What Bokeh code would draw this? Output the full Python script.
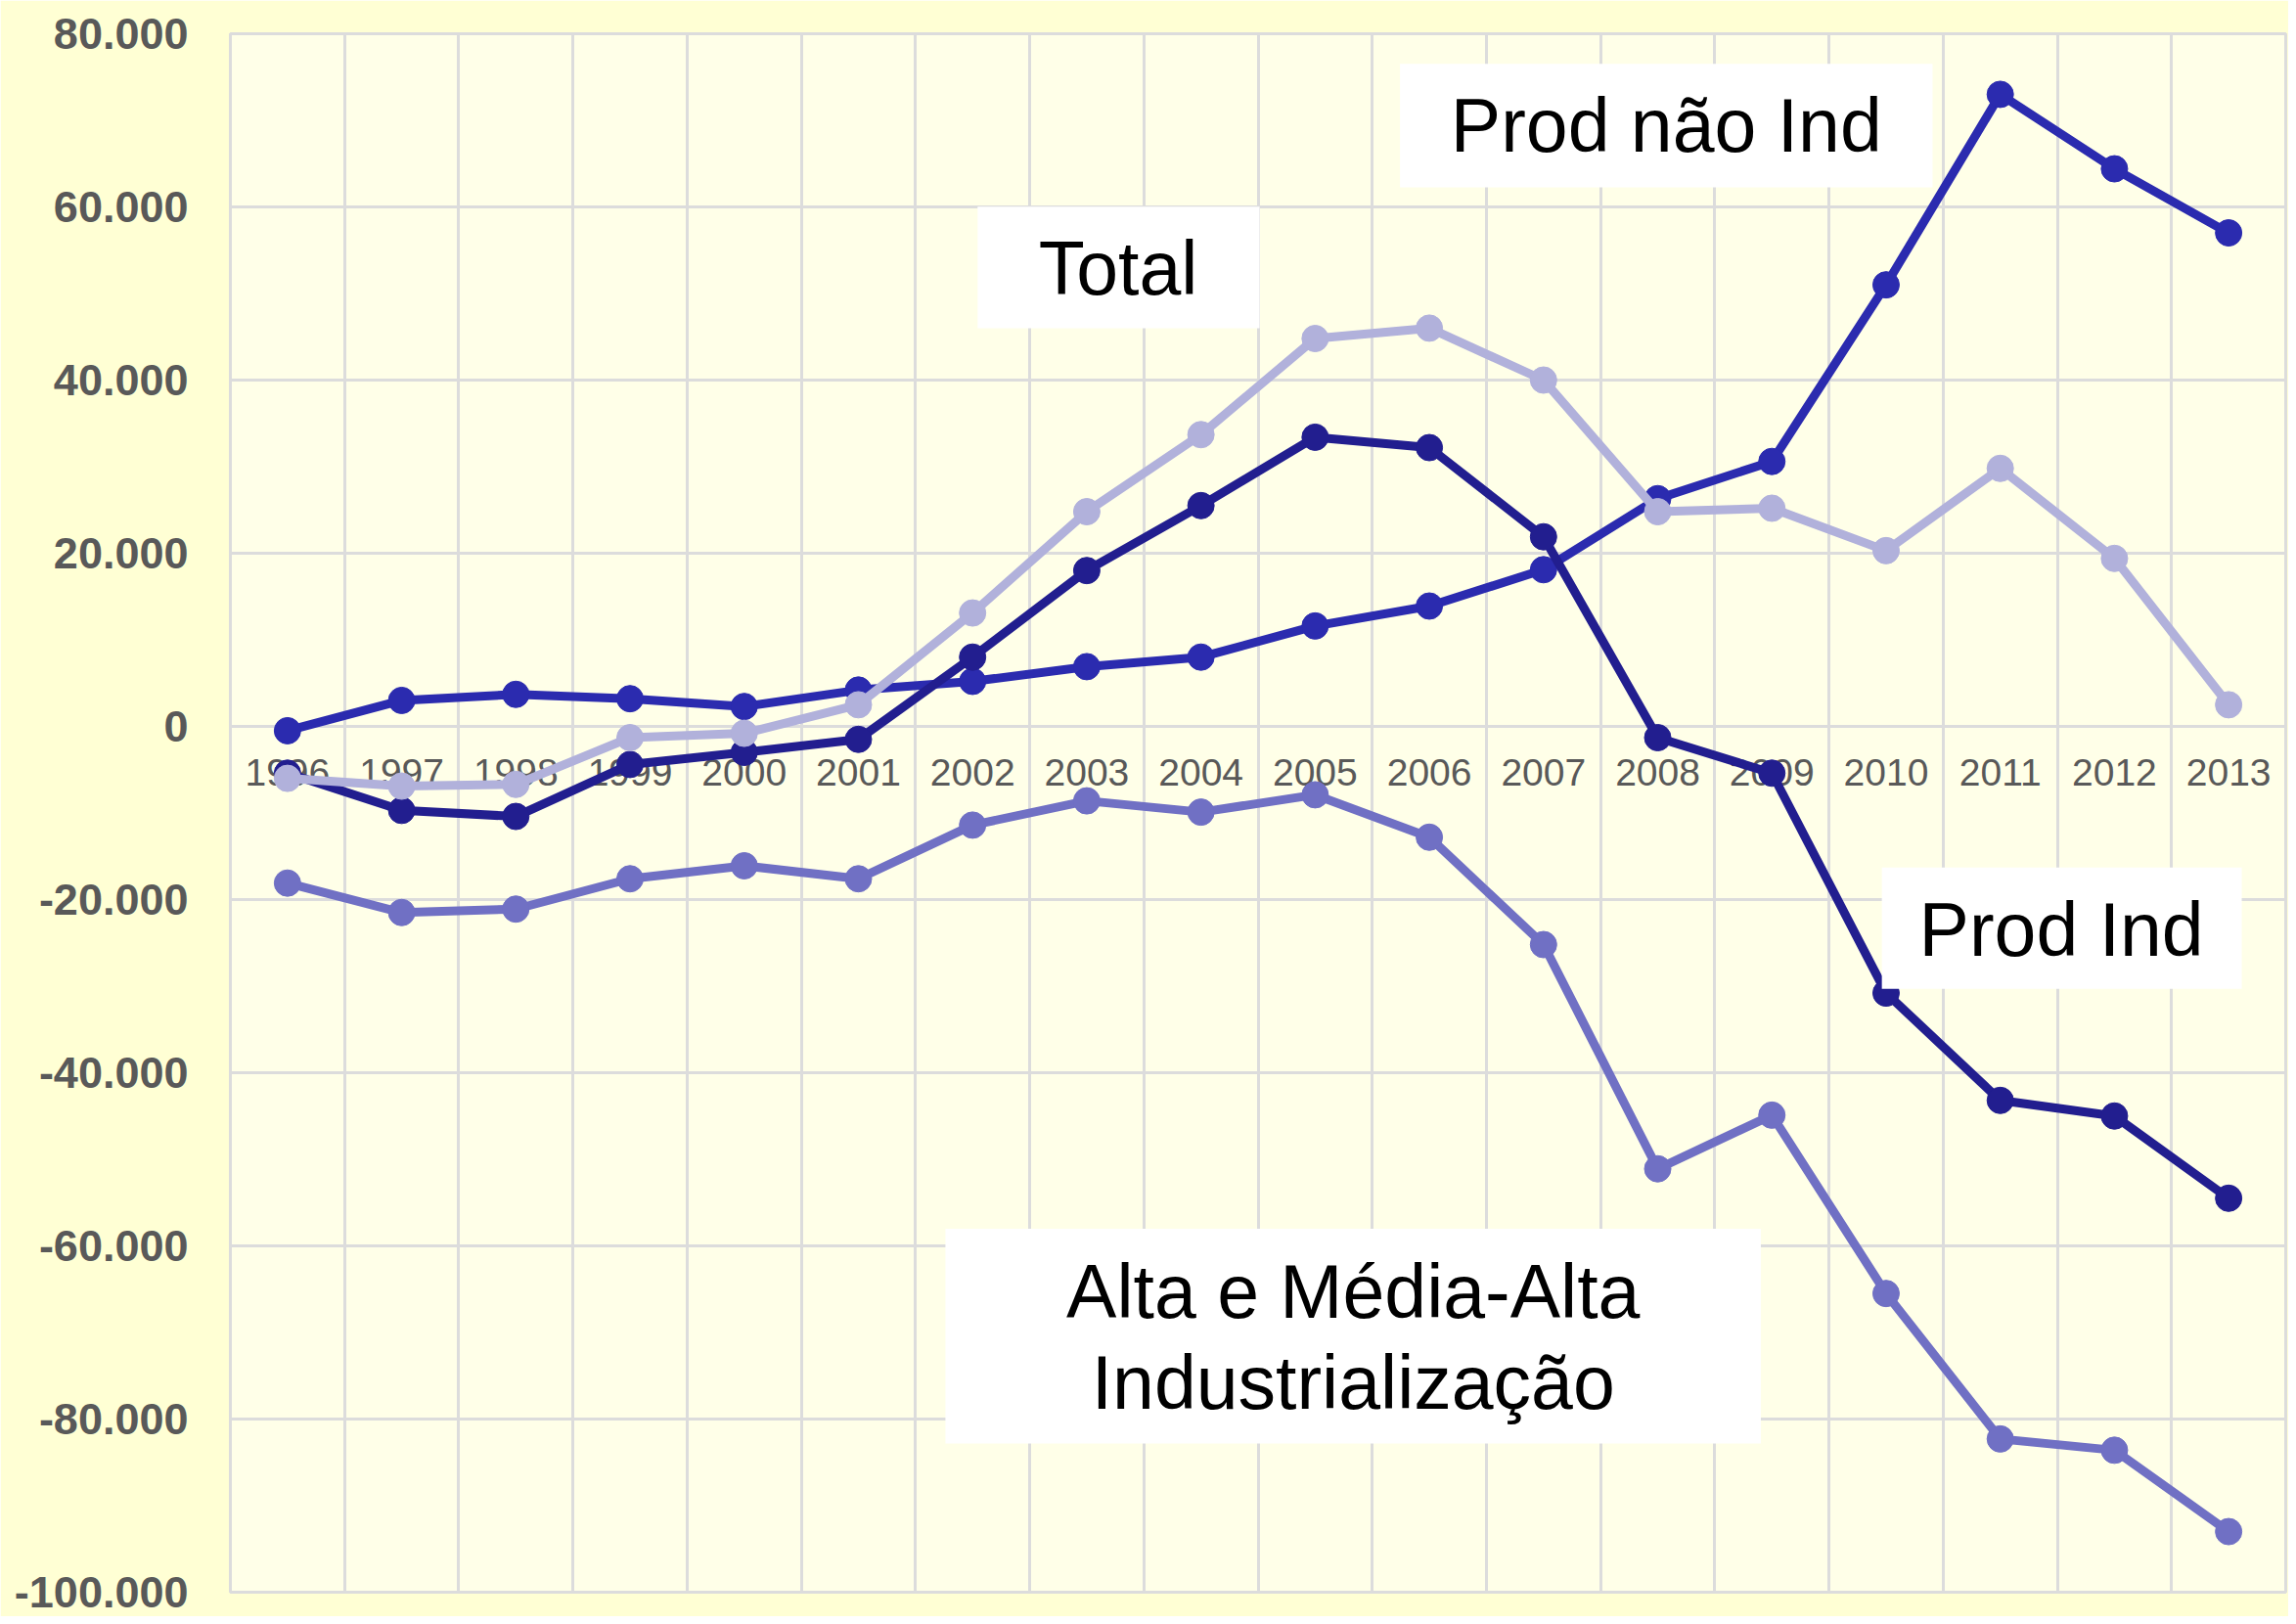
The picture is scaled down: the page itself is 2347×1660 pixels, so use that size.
from bokeh.plotting import figure
from bokeh.models import FixedTicker, Grid, BoxAnnotation, Label, ColumnDataSource, Range1d
from bokeh.core.properties import value
from bokeh.embed import file_html
from bokeh.resources import INLINE

# ---------------- data ----------------
years = ["1996", "1997", "1998", "1999", "2000", "2001", "2002", "2003", "2004",
         "2005", "2006", "2007", "2008", "2009", "2010", "2011", "2012", "2013"]

prod_nao_ind = [-500, 3000, 3700, 3200, 2300, 4200, 5200, 6900, 8000,
                11600, 13900, 18100, 26300, 30600, 51000, 73000, 64400, 57000]
prod_ind = [-5400, -9700, -10400, -4400, -3000, -1500, 8000, 18000, 25500,
            33400, 32200, 21900, -1300, -5400, -30800, -43200, -45000, -54500]
total = [-6000, -6900, -6700, -1300, -800, 2500, 13100, 24800, 33700,
         44800, 46000, 40000, 24800, 25200, 20300, 29800, 19400, 2500]
alta_media_alta = [-18100, -21500, -21100, -17600, -16100, -17600, -11400, -8600, -9900,
                   -7900, -12800, -25200, -51100, -44900, -65500, -82300, -83600, -93000]

y_ticks = [-100000, -80000, -60000, -40000, -20000, 0, 20000, 40000, 60000, 80000]
y_tick_labels = ["-100.000", "-80.000", "-60.000", "-40.000", "-20.000", "0",
                 "20.000", "40.000", "60.000", "80.000"]

# ---------------- figure ----------------
n = len(years)
xs = [i + 0.5 for i in range(n)]

p = figure(width=2339, height=1652, x_axis_type=None,
           x_range=Range1d(0, n), y_range=Range1d(y_ticks[0], y_ticks[-1]),
           output_backend="svg", toolbar_location=None,
           min_border_left=235, min_border_right=3, min_border_top=34, min_border_bottom=25)

p.border_fill_color = "#FFFFD4"
p.background_fill_color = "#FFFFE8"
p.outline_line_color = "#DCDCDC"
p.outline_line_width = 3

# grids
xgrid = Grid(dimension=0, ticker=FixedTicker(ticks=list(range(n + 1))),
             grid_line_color="#DCDCDC", grid_line_width=3)
p.add_layout(xgrid)
p.ygrid.ticker = FixedTicker(ticks=y_ticks)
p.ygrid.grid_line_color = "#DCDCDC"
p.ygrid.grid_line_width = 3

# y axis
yax = p.yaxis[0]
yax.ticker = FixedTicker(ticks=y_ticks)
yax.major_label_overrides = {v: s for v, s in zip(y_ticks, y_tick_labels)}
yax.axis_line_color = None
yax.major_tick_line_color = None
yax.minor_tick_line_color = None
yax.major_tick_in = 0
yax.major_tick_out = 0
yax.major_label_standoff = 43
yax.major_label_text_font = "Liberation Sans"
yax.major_label_text_font_style = "bold"
yax.major_label_text_font_size = "45px"
yax.major_label_text_color = "#595959"

# category labels along the zero line
lab_src = ColumnDataSource(dict(x=xs, y=[0] * n, t=years))
p.text(x="x", y="y", text="t", source=lab_src, y_offset=47,
       text_font=value("Liberation Sans"), text_font_size="39px",
       text_color="#595959", text_align="center", text_baseline="middle")

series = [
    (alta_media_alta, "#7070C4"),
    (prod_nao_ind, "#2B2BAF"),
    (prod_ind, "#221E8F"),
    (total, "#B1B1DB"),
]
for vals, col in series:
    src = ColumnDataSource(dict(x=xs, y=vals))
    p.line(x="x", y="y", source=src, line_color=col, line_width=9, line_join="round")
    p.scatter(x="x", y="y", source=src, size=27, fill_color=col, line_color=col, line_width=1)

# annotation boxes
boxes = [
    # left, right, top, bottom
    (10.243, 14.907, 76520, 62270),
    (6.544, 9.013, 60020, 46000),
    (14.463, 17.615, -16290, -30320),
    (6.262, 13.403, -58030, -82830),
]
for l, r, t, b in boxes:
    p.add_layout(BoxAnnotation(left=l, right=r, top=t, bottom=b,
                               fill_color="white", fill_alpha=1.0, line_color=None))

texts = [
    ("Prod não Ind", 12.575, 69400),
    ("Total", 7.775, 52950),
    ("Prod Ind", 16.035, -23400),
    ("Alta e Média-Alta", 9.833, -65270),
    ("Industrialização", 9.833, -75760),
]
for s, x, y in texts:
    p.add_layout(Label(x=x, y=y, text=s, text_font="Liberation Sans",
                       text_font_size="77px", text_color="black",
                       text_align="center", text_baseline="middle"))

open("out.html", "w").write(file_html(p, INLINE))
